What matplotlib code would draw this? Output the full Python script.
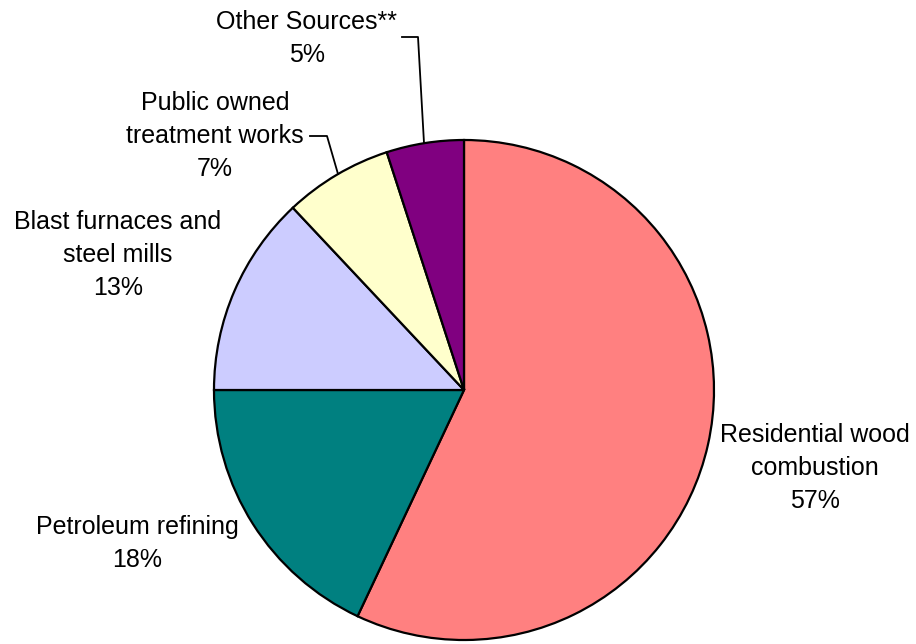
import matplotlib
matplotlib.use("Agg")
import matplotlib.pyplot as plt

# Sources of emissions, share of total (%)
categories = [
    "Residential wood combustion",
    "Petroleum refining",
    "Blast furnaces and steel mills",
    "Public owned treatment works",
    "Other Sources**",
]
shares = [57, 18, 13, 7, 5]
colors = ["#FF8080", "#008080", "#CCCCFF", "#FFFFCC", "#800080"]

# Label lines for each slice (name lines, then percentage)
label_lines = [
    ["Residential wood", "combustion"],
    ["Petroleum refining"],
    ["Blast furnaces and", "steel mills"],
    ["Public owned", "treatment works"],
    ["Other Sources**"],
]

plt.rcParams["font.family"] = ["Liberation Sans", "DejaVu Sans"]

W, H = 916, 644
fig = plt.figure(figsize=(W / 100, H / 100), dpi=100)
ax = fig.add_axes([0, 0, 1, 1])

cx, cy, r = 464, H - 390, 250
ax.pie(shares, colors=colors, startangle=90, counterclock=False,
       center=(cx, cy), radius=r, frame=True,
       wedgeprops=dict(edgecolor="black", linewidth=1.6))
ax.set_xlim(0, W)
ax.set_ylim(0, H)
ax.set_aspect("equal")
ax.axis("off")

# label anchor (x, y of first line) in pixel coordinates from the top
anchors = [(815, 435), (137, 527), (118, 222), (215, 103), (307, 22)]
step = 33
for lines, share, (x, y0) in zip(label_lines, shares, anchors):
    all_lines = lines + [f"{share}%"]
    for i, txt in enumerate(all_lines):
        ax.text(x, H - (y0 + i * step), txt, ha="center", va="center",
                fontsize=18, color="black")

# leader lines for the two small slices
ax.plot([402, 418, 424], [H - 37, H - 37, H - 143], color="black", lw=1.3)
ax.plot([310, 327, 338], [H - 136, H - 136, H - 174], color="black", lw=1.3)

fig.savefig("out.png", dpi=100)
